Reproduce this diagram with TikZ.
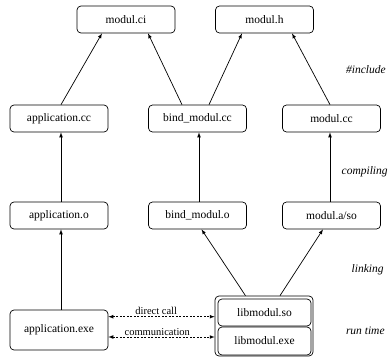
\documentclass[tikz,border=0pt]{standalone}
\usepackage{fontspec}
\setmainfont{Liberation Serif}
\usetikzlibrary{arrows,positioning}

\begin{document}
\begin{tikzpicture}[->, >=latex, x=1pt, y=-1pt, line width=0.7pt]
    \tikzstyle{file}=[draw, -, rounded corners=4pt, minimum width=98pt,
                      minimum height=27pt, inner sep=2pt,
                      font=\fontsize{11.5}{13}\selectfont]
    \tikzstyle{phase}=[anchor=east, inner sep=0pt,
                       font=\fontsize{11.5}{13}\selectfont\itshape]
    \tikzstyle{call}=[<->, dash pattern=on 2pt off 1.5pt]
    \tikzstyle{callabel}=[above, inner sep=1.5pt,
                          font=\fontsize{10.5}{12}\selectfont]

    \useasboundingbox (0,0) rectangle (391,357);

    \node[file] (ci)     at (126,19.5)   {modul.ci};
    \node[file] (h)      at (264.5,19.5) {modul.h};
    \node[file] (appcc)  at (59,118.5)   {application.cc};
    \node[file] (bindcc) at (197.5,118.5) {bind\_modul.cc};
    \node[file] (modcc)  at (331.5,118.5) {modul.cc};
    \node[file] (appo)   at (59,215.5)   {application.o};
    \node[file] (bindo)  at (197.5,215.5) {bind\_modul.o};
    \node[file] (moda)   at (331.5,215.5) {modul.a/so};
    \node[file, minimum height=40pt] (appexe) at (59,330) {application.exe};
    \node[file, minimum height=60pt] (lib)    at (264,326) {};
    \node[file, minimum width=93pt]  (libso)  at (264.5,312.5) {libmodul.so};
    \node[file, minimum width=93pt, minimum height=28pt] (libexe)
                                              at (264.5,341) {libmodul.exe};

    \node[phase] (inc)  at (386,70)  {\#include};
    \node[phase] (comp) at (388,172) {compiling};
    \node[phase] (link) at (384,270) {linking};
    \node[phase] (run)  at (385,331) {run time};

    % include
    \draw ([xshift=2pt]appcc.north)     -- ([xshift=-24pt]ci.south);
    \draw ([xshift=-15.5pt]bindcc.north) -- ([xshift=22pt]ci.south);
    \draw ([xshift=11.5pt]bindcc.north)  -- ([xshift=-22.5pt]h.south);
    \draw ([xshift=-1.5pt]modcc.north)   -- ([xshift=27.5pt]h.south);
    % compiling
    \draw ([xshift=2pt]appo.north)    -- ([xshift=2pt]appcc.south);
    \draw ([xshift=1.5pt]bindo.north) -- ([xshift=1.5pt]bindcc.south);
    \draw ([xshift=-1.5pt]moda.north) -- ([xshift=-1.5pt]modcc.south);
    % linking
    \draw ([xshift=2pt]appexe.north)  -- ([xshift=2pt]appo.south);
    \draw ([xshift=-18.5pt]lib.north) -- ([xshift=4pt]bindo.south);
    \draw ([xshift=16pt]lib.north)    -- ([xshift=-8.5pt]moda.south);
    % run time
    \draw[call] ([yshift=13.3pt]appexe.east)
        -- node[callabel, pos=0.45] {direct call}
        ([yshift=13.3pt]appexe.east -| lib.west);
    \draw[call] ([yshift=-7pt]appexe.east)
        -- node[callabel, pos=0.46] {communication}
        ([yshift=-7pt]appexe.east -| lib.west);
\end{tikzpicture}
\end{document}
